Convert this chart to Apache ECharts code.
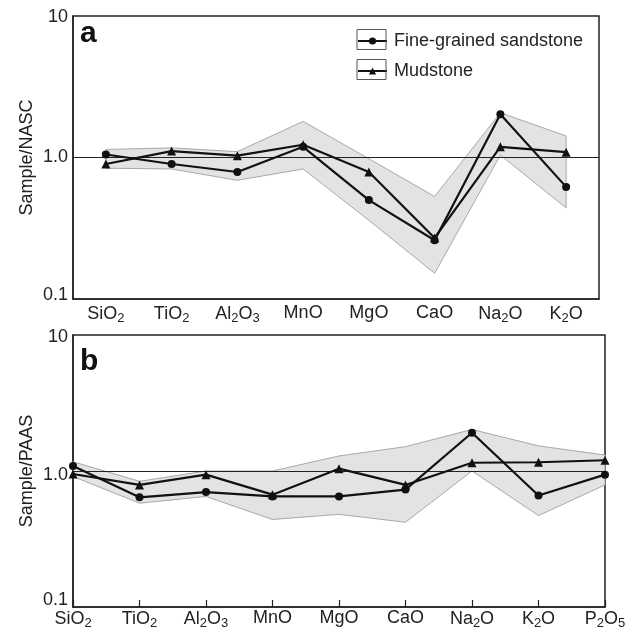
<!DOCTYPE html>
<html>
<head>
<meta charset="utf-8">
<script src="https://cdn.jsdelivr.net/npm/echarts@6/dist/echarts.min.js"></script>
<style>
  html, body { margin: 0; padding: 0; background: #fff; }
  #chart { width: 633px; height: 630px; }
</style>
</head>
<body>
<div id="chart"></div>
<script>
/** 数据 */
const catsA = ['SiO{s|2}', 'TiO{s|2}', 'Al{s|2}O{s|3}', 'MnO', 'MgO', 'CaO', 'Na{s|2}O', 'K{s|2}O']
const catsB = ['SiO{s|2}', 'TiO{s|2}', 'Al{s|2}O{s|3}', 'MnO', 'MgO', 'CaO', 'Na{s|2}O', 'K{s|2}O', 'P{s|2}O{s|5}']

// panel a: Sample/NASC
const sandA = [1.05, 0.90, 0.79, 1.19, 0.50, 0.26, 2.02, 0.62]
const mudA = [0.90, 1.11, 1.03, 1.23, 0.79, 0.27, 1.19, 1.09]
const upperA = [1.14, 1.17, 1.10, 1.80, 0.98, 0.53, 2.07, 1.42]
const lowerA = [0.84, 0.83, 0.69, 0.83, 0.36, 0.152, 1.04, 0.44]

// panel b: Sample/PAAS
const sandB = [1.09, 0.64, 0.70, 0.65, 0.65, 0.73, 1.91, 0.66, 0.94]
const mudB = [0.95, 0.79, 0.94, 0.67, 1.04, 0.79, 1.15, 1.16, 1.20]
const upperB = [1.17, 0.84, 1.0, 1.0, 1.29, 1.51, 2.02, 1.53, 1.31]
const lowerB = [0.91, 0.58, 0.65, 0.44, 0.48, 0.42, 1.0, 0.47, 0.79]

const FONT = '"Liberation Sans", Arial, sans-serif'
const FS = 18

let chart = echarts.init(document.getElementById('chart'))

/** 阴影范围 */
function bandSeries(upper, lower, idx) {
    return {
        type: 'custom',
        xAxisIndex: idx,
        yAxisIndex: idx,
        silent: true,
        z: 1,
        data: [[0, 1]],
        renderItem: function (params, api) {
            let pts = []
            for (let i = 0; i < upper.length; i++) pts.push(api.coord([i, upper[i]]))
            for (let i = lower.length - 1; i >= 0; i--) pts.push(api.coord([i, lower[i]]))
            return {
                type: 'polygon',
                shape: { points: pts },
                style: { fill: '#e3e3e3', stroke: '#a8a8a8', lineWidth: 1 }
            }
        }
    }
}

function lineSeries(name, data, symbol, size, idx, withRef) {
    let s = {
        name: name,
        type: 'line',
        xAxisIndex: idx,
        yAxisIndex: idx,
        data: data,
        symbol: symbol,
        symbolSize: size,
        showAllSymbol: true,
        z: 5,
        lineStyle: { color: '#111', width: 2.2 },
        itemStyle: { color: '#111' },
        animation: false
    }
    if (withRef) {
        s.markLine = {
            silent: true,
            symbol: 'none',
            label: { show: false },
            lineStyle: { color: '#222', width: 1, type: 'solid' },
            data: [{ yAxis: 1 }],
            z: 2
        }
    }
    return s
}

function xAxisCfg(cats, idx, gap, margin) {
    return {
        type: 'category',
        gridIndex: idx,
        data: cats,
        boundaryGap: gap,
        axisLine: { lineStyle: { color: '#222', width: 1.5 } },
        axisTick: { inside: true, length: 7, alignWithLabel: true, lineStyle: { color: '#222', width: 1.2 } },
        axisLabel: {
            color: '#222', fontSize: FS, fontFamily: FONT, margin: margin, interval: 0,
            rich: {
                s: { fontSize: 13, fontFamily: FONT, color: '#222', verticalAlign: 'bottom', padding: [8, 0, 0, 0] }
            }
        },
        splitLine: { show: false }
    }
}

// 刻度标签的上下微调 (像素, 正数向下)
function yAxisCfg(name, idx, shift) {
    return {
        type: 'log',
        gridIndex: idx,
        logBase: 10,
        min: 0.1,
        max: 10,
        name: name,
        nameLocation: 'middle',
        nameGap: 37,
        nameMoveOverlap: false,
        nameTextStyle: { color: '#222', fontSize: FS, fontFamily: FONT },
        axisLine: { show: true, lineStyle: { color: '#222', width: 1.5 } },
        axisTick: { show: false },
        minorTick: { show: false },
        splitLine: { show: false },
        axisLabel: {
            color: '#222', fontSize: FS, fontFamily: FONT, margin: 5,
            formatter: function (v) {
                if (Math.abs(v - 1) < 1e-6) return '{one|1.0}'
                if (Math.abs(v - 0.1) < 1e-6) return '{lo|0.1}'
                return '{hi|' + Math.round(v) + '}'
            },
            rich: {
                lo: { fontSize: FS, fontFamily: FONT, color: '#222', padding: shift.lo > 0 ? [2 * shift.lo, 0, 0, 0] : [0, 0, -2 * shift.lo, 0] },
                one: { fontSize: FS, fontFamily: FONT, color: '#222', padding: shift.one > 0 ? [2 * shift.one, 0, 0, 0] : [0, 0, -2 * shift.one, 0] },
                hi: { fontSize: FS, fontFamily: FONT, color: '#222', padding: shift.hi > 0 ? [2 * shift.hi, 0, 0, 0] : [0, 0, -2 * shift.hi, 0] }
            }
        }
    }
}

let option = {
    backgroundColor: '#fff',
    animation: false,
    grid: [
        { left: 73, top: 16, width: 526, height: 283, show: true, borderColor: '#222', borderWidth: 1.5 },
        { left: 73, top: 335, width: 532, height: 272, show: true, borderColor: '#222', borderWidth: 1.5 }
    ],
    xAxis: [xAxisCfg(catsA, 0, true, 5), xAxisCfg(catsB, 1, false, 2)],
    yAxis: [
        yAxisCfg('Sample/NASC', 0, { lo: -4, one: 0, hi: 1 }),
        yAxisCfg('Sample/PAAS', 1, { lo: -7, one: 4, hi: 2 })
    ],
    legend: {
        left: 357,
        top: 31,
        padding: 0,
        orient: 'vertical',
        itemWidth: 29,
        itemHeight: 9,
        itemGap: 10,
        textStyle: { color: '#222', fontSize: FS, fontFamily: FONT, lineHeight: 20, padding: [0, 0, 0, 2] },
        data: ['Fine-grained sandstone', 'Mudstone']
    },
    graphic: [
        { type: 'text', x: 80, y: 34, style: { text: 'a', fontSize: 30, fontWeight: 'bold', fontFamily: FONT, fill: '#111', verticalAlign: 'middle' } },
        { type: 'text', x: 80, y: 362, style: { text: 'b', fontSize: 30, fontWeight: 'bold', fontFamily: FONT, fill: '#111', verticalAlign: 'middle' } },
        { type: 'rect', shape: { x: 357, y: 29.5, width: 29, height: 20 }, style: { fill: 'none', stroke: '#555', lineWidth: 1 }, z: 100 },
        { type: 'rect', shape: { x: 357, y: 59.5, width: 29, height: 20 }, style: { fill: 'none', stroke: '#555', lineWidth: 1 }, z: 100 }
    ],
    series: [
        bandSeries(upperA, lowerA, 0),
        bandSeries(upperB, lowerB, 1),
        lineSeries('Fine-grained sandstone', sandA, 'circle', 8, 0, true),
        lineSeries('Mudstone', mudA, 'triangle', 9, 0, false),
        lineSeries('Fine-grained sandstone', sandB, 'circle', 8, 1, true),
        lineSeries('Mudstone', mudB, 'triangle', 9, 1, false)
    ]
}

chart.setOption(option)
</script>
</body>
</html>
